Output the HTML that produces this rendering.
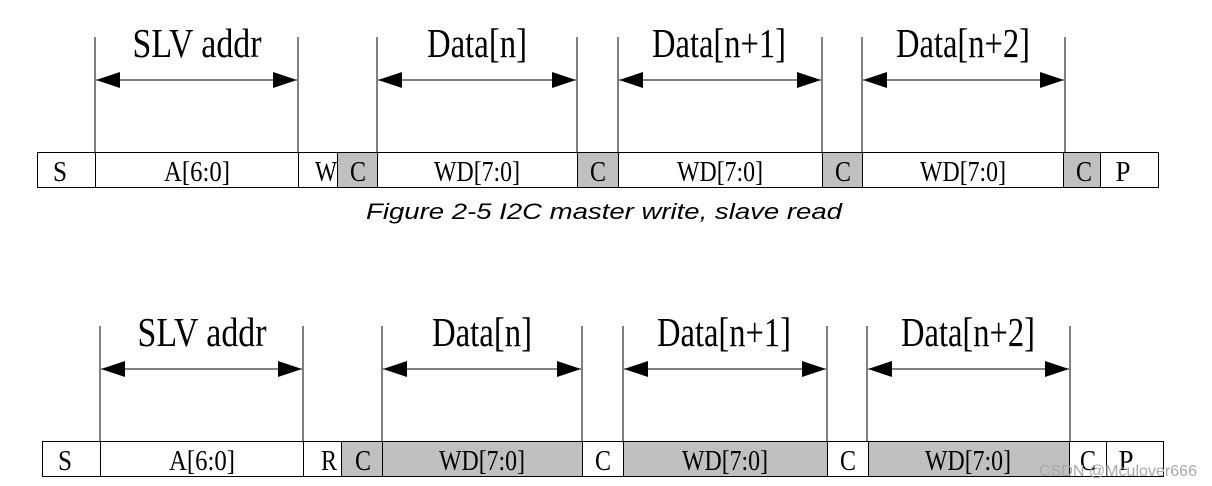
<!DOCTYPE html>
<html><head><meta charset="utf-8"><style>
html,body{margin:0;padding:0;background:#fff;width:1212px;height:486px;overflow:hidden}
svg{display:block}
.l{font-family:"Liberation Serif",serif;font-size:41px;fill:#000}
.c{font-family:"Liberation Serif",serif;font-size:28px;fill:#000}
</style></head><body>
<svg width="1212" height="486" viewBox="0 0 1212 486" xmlns="http://www.w3.org/2000/svg">
<!-- TOP -->
<g stroke="#000" stroke-width="1">
<line x1="95" y1="37" x2="95" y2="152"/><line x1="298" y1="37" x2="298" y2="152"/>
<line x1="377" y1="37" x2="377" y2="152"/><line x1="577" y1="37" x2="577" y2="152"/>
<line x1="618" y1="37" x2="618" y2="152"/><line x1="822" y1="37" x2="822" y2="152"/>
<line x1="862" y1="37" x2="862" y2="152"/><line x1="1065" y1="37" x2="1065" y2="152"/>
<line x1="96" y1="80" x2="297" y2="80"/><line x1="378" y1="80" x2="576" y2="80"/>
<line x1="619" y1="80" x2="821" y2="80"/><line x1="863" y1="80" x2="1064" y2="80"/>
</g>
<g fill="#000">
<polygon points="96,80 120,72 120,88"/><polygon points="297,80 273,72 273,88"/>
<polygon points="378,80 402,72 402,88"/><polygon points="576,80 552,72 552,88"/>
<polygon points="619,80 643,72 643,88"/><polygon points="821,80 797,72 797,88"/>
<polygon points="863,80 887,72 887,88"/><polygon points="1064,80 1040,72 1040,88"/>
</g>
<text class="l" x="197" y="57" text-anchor="middle" textLength="129" lengthAdjust="spacingAndGlyphs">SLV addr</text>
<text class="l" x="477" y="57" text-anchor="middle" textLength="100" lengthAdjust="spacingAndGlyphs">Data[n]</text>
<text class="l" x="719" y="57" text-anchor="middle" textLength="134" lengthAdjust="spacingAndGlyphs">Data[n+1]</text>
<text class="l" x="963" y="57" text-anchor="middle" textLength="134" lengthAdjust="spacingAndGlyphs">Data[n+2]</text>
<g stroke="#000" stroke-width="1">
<rect x="37.5" y="152.5" width="58" height="35" fill="#fff"/>
<rect x="95.5" y="152.5" width="203" height="35" fill="#fff"/>
<rect x="298.5" y="152.5" width="39" height="35" fill="#fff"/>
<rect x="337.5" y="152.5" width="40" height="35" fill="#c0c0c0"/>
<rect x="377.5" y="152.5" width="200" height="35" fill="#fff"/>
<rect x="577.5" y="152.5" width="41" height="35" fill="#c0c0c0"/>
<rect x="618.5" y="152.5" width="204" height="35" fill="#fff"/>
<rect x="822.5" y="152.5" width="40" height="35" fill="#c0c0c0"/>
<rect x="862.5" y="152.5" width="201" height="35" fill="#fff"/>
<rect x="1063.5" y="152.5" width="37" height="35" fill="#c0c0c0"/>
<rect x="1100.5" y="152.5" width="58" height="35" fill="#fff"/>
</g>
<text class="c" text-anchor="middle" x="60" y="181" textLength="14" lengthAdjust="spacingAndGlyphs">S</text>
<text class="c" text-anchor="middle" x="197" y="181" textLength="66" lengthAdjust="spacingAndGlyphs">A[6:0]</text>
<text class="c" text-anchor="middle" x="326" y="181" textLength="22" lengthAdjust="spacingAndGlyphs">W</text>
<text class="c" text-anchor="middle" x="358" y="181" textLength="16" lengthAdjust="spacingAndGlyphs">C</text>
<text class="c" text-anchor="middle" x="477" y="181" textLength="86" lengthAdjust="spacingAndGlyphs">WD[7:0]</text>
<text class="c" text-anchor="middle" x="598" y="181" textLength="16" lengthAdjust="spacingAndGlyphs">C</text>
<text class="c" text-anchor="middle" x="720" y="181" textLength="86" lengthAdjust="spacingAndGlyphs">WD[7:0]</text>
<text class="c" text-anchor="middle" x="843" y="181" textLength="16" lengthAdjust="spacingAndGlyphs">C</text>
<text class="c" text-anchor="middle" x="963" y="181" textLength="86" lengthAdjust="spacingAndGlyphs">WD[7:0]</text>
<text class="c" text-anchor="middle" x="1084" y="181" textLength="16" lengthAdjust="spacingAndGlyphs">C</text>
<text class="c" text-anchor="middle" x="1123" y="181" textLength="15" lengthAdjust="spacingAndGlyphs">P</text>
<text x="366" y="219" font-family="Liberation Sans,sans-serif" font-style="italic" font-size="22" textLength="476" lengthAdjust="spacingAndGlyphs" fill="#000">Figure 2-5  I2C master write, slave read</text>

<!-- BOTTOM -->
<g transform="translate(5,289)">
<g stroke="#000" stroke-width="1">
<line x1="95" y1="37" x2="95" y2="152"/><line x1="298" y1="37" x2="298" y2="152"/>
<line x1="377" y1="37" x2="377" y2="152"/><line x1="577" y1="37" x2="577" y2="152"/>
<line x1="618" y1="37" x2="618" y2="152"/><line x1="822" y1="37" x2="822" y2="152"/>
<line x1="862" y1="37" x2="862" y2="152"/><line x1="1065" y1="37" x2="1065" y2="152"/>
<line x1="96" y1="80" x2="297" y2="80"/><line x1="378" y1="80" x2="576" y2="80"/>
<line x1="619" y1="80" x2="821" y2="80"/><line x1="863" y1="80" x2="1064" y2="80"/>
</g>
<g fill="#000">
<polygon points="96,80 120,72 120,88"/><polygon points="297,80 273,72 273,88"/>
<polygon points="378,80 402,72 402,88"/><polygon points="576,80 552,72 552,88"/>
<polygon points="619,80 643,72 643,88"/><polygon points="821,80 797,72 797,88"/>
<polygon points="863,80 887,72 887,88"/><polygon points="1064,80 1040,72 1040,88"/>
</g>
<text class="l" x="197" y="57" text-anchor="middle" textLength="129" lengthAdjust="spacingAndGlyphs">SLV addr</text>
<text class="l" x="477" y="57" text-anchor="middle" textLength="100" lengthAdjust="spacingAndGlyphs">Data[n]</text>
<text class="l" x="719" y="57" text-anchor="middle" textLength="134" lengthAdjust="spacingAndGlyphs">Data[n+1]</text>
<text class="l" x="963" y="57" text-anchor="middle" textLength="134" lengthAdjust="spacingAndGlyphs">Data[n+2]</text>
<g stroke="#000" stroke-width="1">
<rect x="37.5" y="152.5" width="58" height="35" fill="#fff"/>
<rect x="95.5" y="152.5" width="203" height="35" fill="#fff"/>
<rect x="298.5" y="152.5" width="38" height="35" fill="#fff"/>
<rect x="336.5" y="152.5" width="41" height="35" fill="#c0c0c0"/>
<rect x="377.5" y="152.5" width="200" height="35" fill="#c0c0c0"/>
<rect x="577.5" y="152.5" width="41" height="35" fill="#fff"/>
<rect x="618.5" y="152.5" width="204" height="35" fill="#c0c0c0"/>
<rect x="822.5" y="152.5" width="41" height="35" fill="#fff"/>
<rect x="863.5" y="152.5" width="201" height="35" fill="#c0c0c0"/>
<rect x="1064.5" y="152.5" width="37" height="35" fill="#fff"/>
<rect x="1101.5" y="152.5" width="57" height="35" fill="#fff"/>
</g>
<text class="c" text-anchor="middle" x="60" y="181" textLength="14" lengthAdjust="spacingAndGlyphs">S</text>
<text class="c" text-anchor="middle" x="197" y="181" textLength="66" lengthAdjust="spacingAndGlyphs">A[6:0]</text>
<text class="c" text-anchor="middle" x="324" y="181" textLength="16" lengthAdjust="spacingAndGlyphs">R</text>
<text class="c" text-anchor="middle" x="358" y="181" textLength="16" lengthAdjust="spacingAndGlyphs">C</text>
<text class="c" text-anchor="middle" x="477" y="181" textLength="86" lengthAdjust="spacingAndGlyphs">WD[7:0]</text>
<text class="c" text-anchor="middle" x="598" y="181" textLength="16" lengthAdjust="spacingAndGlyphs">C</text>
<text class="c" text-anchor="middle" x="720" y="181" textLength="86" lengthAdjust="spacingAndGlyphs">WD[7:0]</text>
<text class="c" text-anchor="middle" x="843" y="181" textLength="16" lengthAdjust="spacingAndGlyphs">C</text>
<text class="c" text-anchor="middle" x="963" y="181" textLength="86" lengthAdjust="spacingAndGlyphs">WD[7:0]</text>
<text class="c" text-anchor="middle" x="1083" y="181" textLength="16" lengthAdjust="spacingAndGlyphs">C</text>
<text class="c" text-anchor="middle" x="1121" y="181" textLength="15" lengthAdjust="spacingAndGlyphs">P</text>
</g>
<text x="1039" y="476" font-family="Liberation Sans,sans-serif" font-size="16" fill="#a8a8a8" textLength="158" lengthAdjust="spacingAndGlyphs">CSDN @Mculover666</text>
</svg>
</body></html>
